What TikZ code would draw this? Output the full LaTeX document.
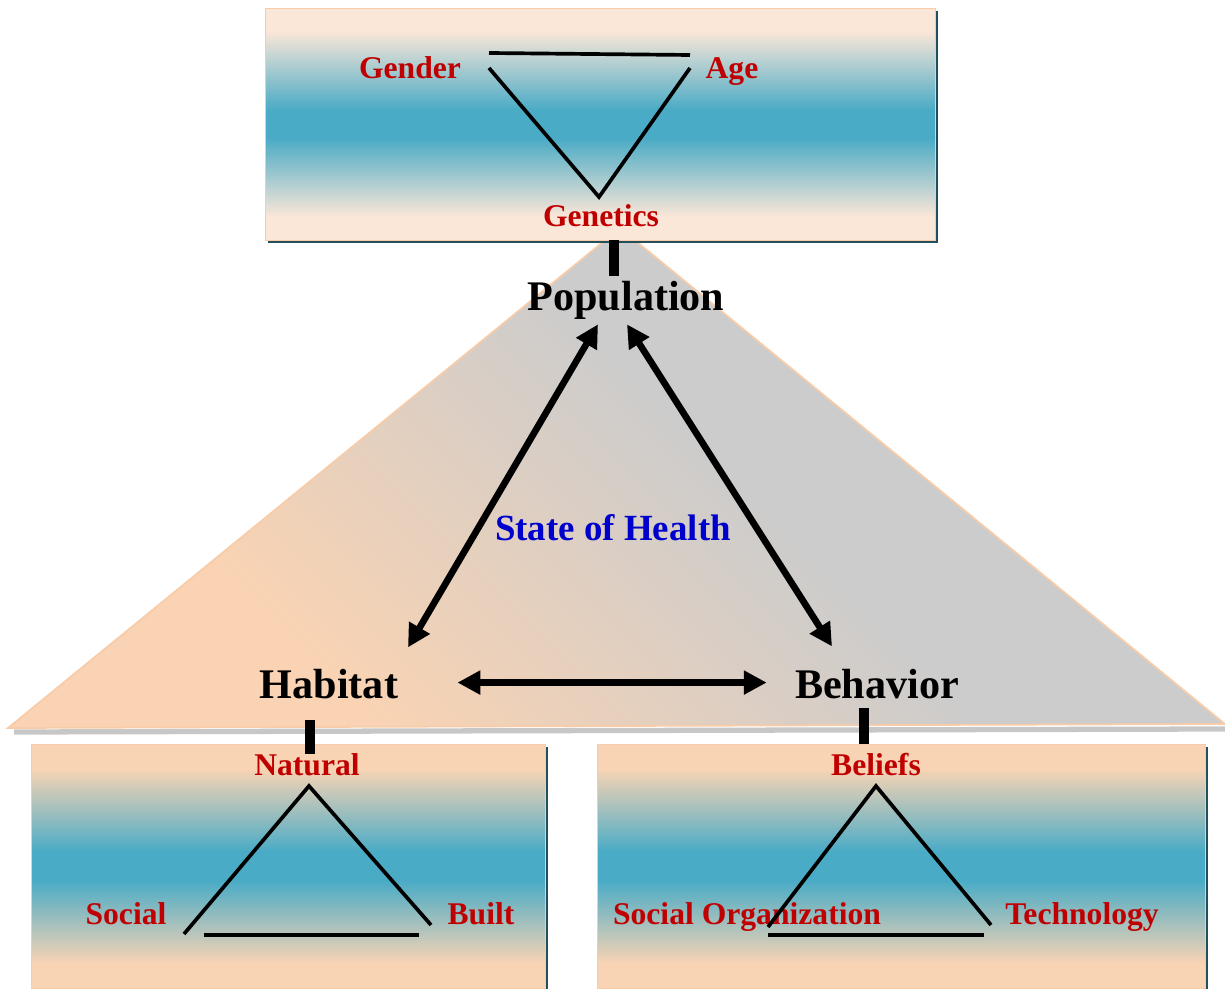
\documentclass[tikz,border=0pt]{standalone}
\usepackage{fontspec}
\setmainfont{Liberation Serif}
\usetikzlibrary{arrows.meta,shadows}

\definecolor{palepeach}{HTML}{FBE7D8}
\definecolor{peach}{HTML}{F9D4B4}
\definecolor{bandblue}{HTML}{4AABC6}
\definecolor{pyrpeach}{HTML}{F9D3B3}
\definecolor{pyrgrey}{HTML}{CCCCCC}
\definecolor{edgepeach}{HTML}{F8CCA8}
\definecolor{shadowteal}{HTML}{22505E}
\definecolor{labelred}{HTML}{C00000}
\definecolor{healthblue}{HTML}{0000CC}

\pgfdeclareverticalshading{palebands}{100bp}{color(0bp)=(palepeach); color(30bp)=(palepeach); color(47bp)=(bandblue); color(53bp)=(bandblue); color(70bp)=(palepeach); color(100bp)=(palepeach)}
\pgfdeclareverticalshading{peachbands}{100bp}{color(0bp)=(peach); color(30bp)=(peach); color(47bp)=(bandblue); color(53bp)=(bandblue); color(70bp)=(peach); color(100bp)=(peach)}
\pgfdeclarehorizontalshading{pyramidfade}{100bp}{color(0bp)=(pyrpeach); color(30bp)=(pyrpeach); color(55bp)=(pyrgrey); color(100bp)=(pyrgrey)}

\begin{document}
\begin{tikzpicture}[x=0.02cm, y=-0.02cm]
    \tikzset{panel/.style={%
      rectangle,%
      shade,%
      draw=edgepeach,%
      line width=0.5pt,%
      inner sep=0pt,%
      drop shadow={shadow xshift=1.8pt, shadow yshift=-1.8pt, fill=shadowteal, opacity=1}}%
    };
\tikzset{factor/.style={text=labelred, font=\fontsize{18}{20}\selectfont\bfseries, inner sep=0pt, anchor=base}};
\tikzset{pillar/.style={font=\fontsize{24}{28}\selectfont\bfseries, inner sep=0pt, anchor=base}};
\tikzset{thinlink/.style={line width=2.1pt}};
\tikzset{stem/.style={line width=5.7pt}};
\tikzset{bigarrow/.style={line width=3.8pt, {Triangle[length=13pt,width=13pt]}-{Triangle[length=13pt,width=13pt]}}};

\useasboundingbox (0,0) rectangle (1225,989);

%pyramid behind everything
\coordinate (apex) at (620,228);
\coordinate (leftfoot) at (8,728);
\coordinate (rightfoot) at (1225,724);
\draw[line width=3pt, black!22] ([shift={(6,4)}]leftfoot) -- ([shift={(0,5)}]rightfoot);
\shade[shading=pyramidfade, shading angle=45, draw=edgepeach, line width=1pt] (leftfoot) -- (apex) -- (rightfoot) -- cycle;

%the three panels
\node[panel, shading=palebands, minimum width=13.4cm, minimum height=4.64cm] (traitbox) at (600,124) {};
\node[panel, shading=peachbands, minimum width=10.28cm, minimum height=4.88cm] (habitatbox) at (288,866) {};
\node[panel, shading=peachbands, minimum width=12.16cm, minimum height=4.88cm] (behaviorbox) at (901,866) {};

\node[factor] (gender) at (410,79) {Gender};
\node[factor] (age) at (732,79) {Age};
\node[factor] (genetics) at (601,227) {Genetics};

\node[pillar] (population) at (626,311) {Population};
\node[pillar] (habitat) at (329,699) {Habitat};
\node[pillar] (behavior) at (877,699) {Behavior};
\node[text=healthblue, font=\fontsize{21}{24}\selectfont\bfseries, inner sep=0pt, anchor=base] (health) at (613,541) {State of Health};

\node[factor] (natural) at (307,776) {Natural};
\node[factor] (social) at (126,925) {Social};
\node[factor] (built) at (481,925) {Built};

\node[factor] (beliefs) at (876,776) {Beliefs};
\node[factor] (socialorg) at (747,925) {Social Organization};
\node[factor] (technology) at (1082,925) {Technology};

%triangle inside the top panel
\coordinate (genderTop) at (489,53);
\coordinate (ageTop) at (690,55);
\coordinate (genderCorner) at (489,68);
\coordinate (ageCorner) at (690,68);
\coordinate (geneticsCorner) at (599,197);
\draw[thinlink] (genderTop) -- (ageTop);
\draw[thinlink] (genderCorner) -- (geneticsCorner) -- (ageCorner);

%triangle inside the habitat panel
\coordinate (naturalCorner) at (309,786);
\coordinate (socialCorner) at (184,934);
\coordinate (builtCorner) at (431,925);
\coordinate (socialBase) at (204,935);
\coordinate (builtBase) at (419,935);
\draw[thinlink] (socialCorner) -- (naturalCorner) -- (builtCorner);
\draw[thinlink] (socialBase) -- (builtBase);

%triangle inside the behavior panel
\coordinate (beliefsCorner) at (876,786);
\coordinate (orgCorner) at (768,927);
\coordinate (techCorner) at (991,925);
\coordinate (orgBase) at (768,935);
\coordinate (techBase) at (984,935);
\draw[thinlink] (orgCorner) -- (beliefsCorner) -- (techCorner);
\draw[thinlink] (orgBase) -- (techBase);

%stems from the panels
\path (population.north)+(-12,-5) node[coordinate] (popStem) {};
\draw[stem] (traitbox.south -| popStem) -- (popStem);
\path (habitat.south)+(-19,20) node[coordinate] (habStem) {};
\draw[stem] (habStem) -- (habStem |- natural.north);
\path (behavior.south)+(-13,8) node[coordinate] (behStem) {};
\draw[stem] (behStem) -- (behStem |- behaviorbox.north);

%arrows between the three
\path (population.south)+(-28,4) node[coordinate] (popLeft) {};
\path (population.south)+(1,4) node[coordinate] (popRight) {};
\path (habitat.north)+(79,-22) node[coordinate] (habTop) {};
\path (behavior.north)+(-45,-23) node[coordinate] (behTop) {};
\path (habitat.east)+(59,-2) node[coordinate] (habRight) {};
\path (behavior.west)+(-28,-2) node[coordinate] (behLeft) {};
\draw[bigarrow] (popLeft) -- (habTop);
\draw[bigarrow] (popRight) -- (behTop);
\draw[bigarrow] (habRight) -- (behLeft);

\end{tikzpicture}
\end{document}
